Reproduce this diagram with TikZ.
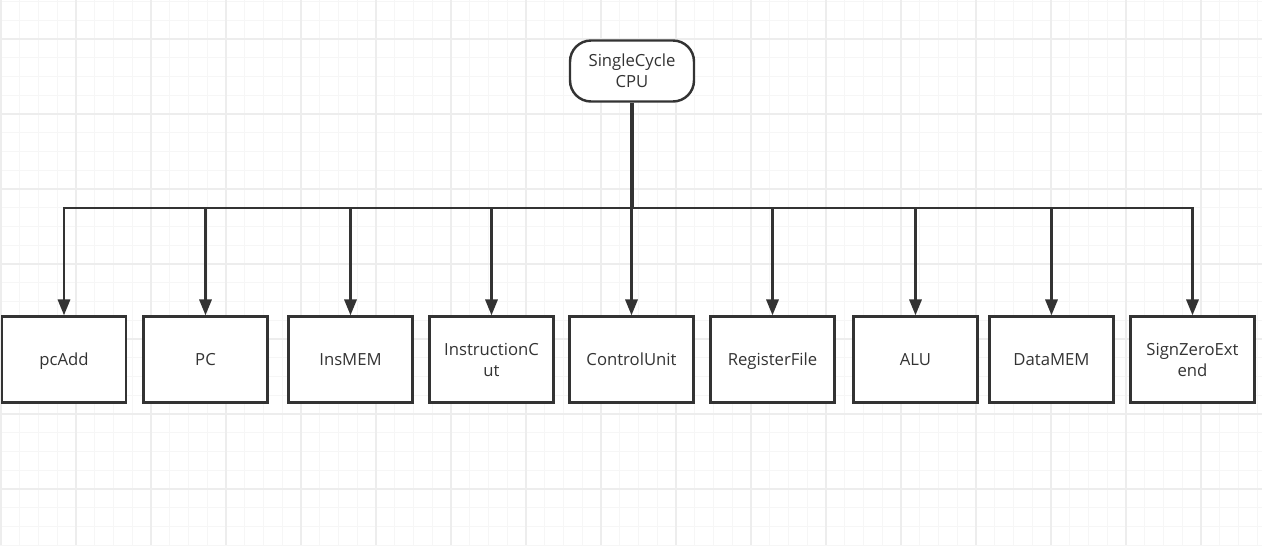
\documentclass[tikz,border=0pt]{standalone}
\usepackage{fontspec}
\setmainfont{Open Sans}
\usetikzlibrary{arrows.meta}
\definecolor{edge}{HTML}{333333}
\begin{document}
\begin{tikzpicture}[x=0.02cm,y=-0.02cm,
	box/.style={draw=edge,fill=white,line width=1.4pt,minimum width=2.48cm,minimum height=1.72cm,inner sep=1pt,align=center,text=edge,font=\fontsize{9.5}{12}\selectfont},
	solo/.style={box,text height=0.71em,text depth=0pt},
	cpubox/.style={box,rounded corners=0.42cm,minimum height=1.22cm},
	link/.style={draw=edge,line width=1.3pt,-{Triangle[width=7pt,length=9pt]}},
	minorgrid/.style={draw=gray!7,line width=0.5pt},
	majorgrid/.style={draw=gray!14,line width=0.6pt}]
	\useasboundingbox (0,0) rectangle (1262,545);
	% background grid
	\foreach \k in {0,...,67} {
		\pgfmathsetmacro\gx{1+\k*18.75}
		\draw[minorgrid] (\gx,0) -- (\gx,545);
	}
	\foreach \k in {0,...,29} {
		\pgfmathsetmacro\gy{1.5+\k*18.75}
		\draw[minorgrid] (0,\gy) -- (1262,\gy);
	}
	\foreach \k in {0,...,16} {
		\pgfmathsetmacro\gx{1+\k*75}
		\draw[majorgrid] (\gx,0) -- (\gx,545);
	}
	\foreach \k in {0,...,6} {
		\pgfmathsetmacro\gy{39+\k*75}
		\draw[majorgrid] (0,\gy) -- (1262,\gy);
	}
	\def\yrow{359.5};
	\def\ybus{208};
	\node[cpubox] (cpu) at (632,71) {SingleCycle\\CPU};
	\coordinate (bus) at (632,\ybus);
	\node[solo] (pcadd) at (64,\yrow) {pcAdd};
	\node[solo] (pc) at (205.5,\yrow) {PC};
	\node[solo] (insmem) at (350.5,\yrow) {InsMEM};
	\node[box] (inscut) at (491.5,\yrow) {InstructionC\\ut};
	\node[solo] (ctrl) at (631.5,\yrow) {ControlUnit};
	\node[solo] (regfile) at (772.5,\yrow) {RegisterFile};
	\node[solo] (alu) at (915.5,\yrow) {ALU};
	\node[solo] (datamem) at (1051.5,\yrow) {DataMEM};
	\node[box] (ext) at (1192.5,\yrow) {SignZeroExt\\end};
	\draw[draw=edge,line width=2pt] (cpu) -- (bus);
	\foreach \b in {pcadd,pc,insmem,inscut,ctrl,regfile,alu,datamem,ext}
		\draw[link] (bus) -| (\b);
\end{tikzpicture}
\end{document}
